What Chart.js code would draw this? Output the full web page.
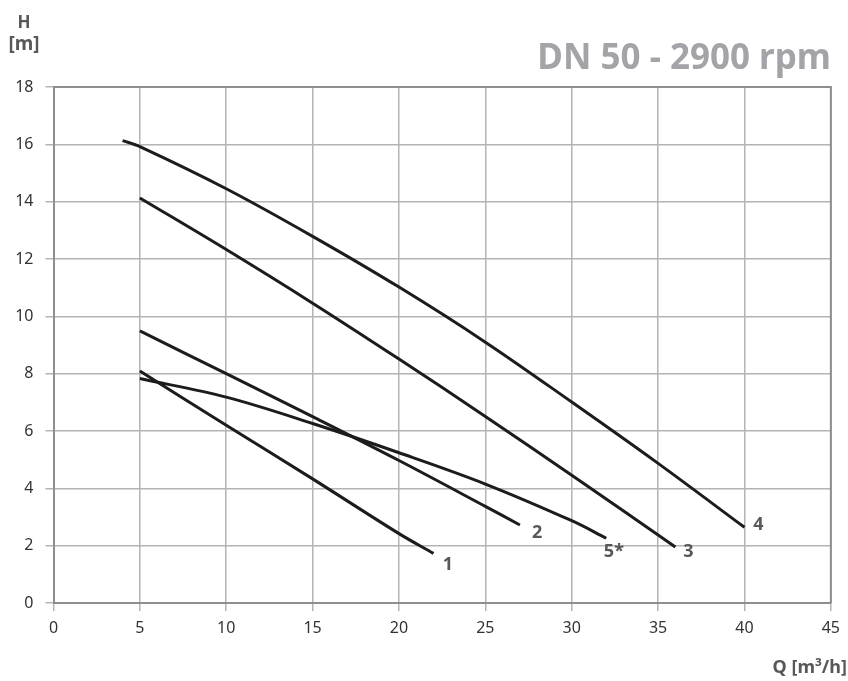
<!DOCTYPE html>
<html>
<head>
<meta charset="utf-8">
<script src="https://cdn.jsdelivr.net/npm/chart.js@4/dist/chart.umd.min.js"></script>
<style>
  html, body { margin: 0; padding: 0; background: #fff; }
  #wrap { width: 848px; height: 681px; }
</style>
</head>
<body>
<div id="wrap"><canvas id="pump-chart" width="848" height="681"></canvas></div>
<script>
// Pump curves (Q in m3/h, H in m)
const curveNames = ['1', '2', '5*', '3', '4'];

const q1 = [5, 10, 15, 20, 22];
const h1 = [8.09, 6.2, 4.33, 2.42, 1.73];

const q2 = [5, 10, 15, 20, 25, 27];
const h2 = [9.49, 8.0, 6.5, 4.97, 3.37, 2.72];

const q5 = [5, 10, 15, 20, 25, 30, 32];
const h5 = [7.83, 7.18, 6.26, 5.24, 4.15, 2.87, 2.26];

const q3 = [5, 10, 15, 20, 25, 30, 36];
const h3 = [14.13, 12.33, 10.46, 8.51, 6.51, 4.46, 1.95];

const q4 = [4, 5, 10, 15, 20, 25, 30, 35, 40];
const h4 = [16.13, 15.92, 14.45, 12.79, 11.02, 9.1, 7.01, 4.87, 2.64];

// where the curve numbers sit (data coords)
const labelQ = [22.83, 28.0, 32.44, 36.76, 40.8];
const labelH = [1.32, 2.44, 1.78, 1.78, 2.72];

const xTicks = [0, 5, 10, 15, 20, 25, 30, 35, 40, 45];
const yTicks = [0, 2, 4, 6, 8, 10, 12, 14, 16, 18];

const FONT = '"Noto Sans", "Open Sans", sans-serif';

function toPoints(qs, hs) {
  return qs.map((q, i) => ({ x: q, y: hs[i] }));
}

const allQ = [q1, q2, q5, q3, q4];
const allH = [h1, h2, h5, h3, h4];

const datasets = curveNames.map((name, i) => ({
  label: name,
  data: toPoints(allQ[i], allH[i]),
  borderColor: '#1c1c1c',
  borderWidth: 3,
  pointRadius: 0,
  fill: false,
  tension: 0.35
}));

// Extra texts: title, axis names and curve numbers
const textPlugin = {
  id: 'texts',
  afterDraw(chart) {
    const ctx = chart.ctx;
    const xs = chart.scales.x;
    const ys = chart.scales.y;
    ctx.save();

    // curve numbers
    ctx.fillStyle = '#58585a';
    ctx.font = 'bold 18px ' + FONT;
    ctx.textAlign = 'center';
    ctx.textBaseline = 'middle';
    for (let i = 0; i < curveNames.length; i++) {
      ctx.fillText(curveNames[i], xs.getPixelForValue(labelQ[i]), ys.getPixelForValue(labelH[i]));
    }

    // title
    ctx.fillStyle = '#a3a3a8';
    ctx.font = 'bold 35px ' + FONT;
    ctx.textAlign = 'right';
    ctx.textBaseline = 'alphabetic';
    ctx.fillText('DN 50 - 2900 rpm', 831, 69);

    // axis names
    ctx.fillStyle = '#58585a';
    ctx.font = 'bold 17px ' + FONT;
    ctx.textAlign = 'center';
    ctx.fillText('H', 24, 28);
    ctx.font = 'bold 19px ' + FONT;
    ctx.fillText('[m]', 24, 50);
    ctx.font = 'bold 18px ' + FONT;
    ctx.textAlign = 'right';
    ctx.fillText('Q [m³/h]', 847, 673);

    ctx.restore();
  }
};

// top and right frame lines to close the box
const framePlugin = {
  id: 'frame',
  beforeDatasetsDraw(chart) {
    const { ctx, chartArea: a } = chart;
    ctx.save();
    ctx.strokeStyle = '#8e8e90';
    ctx.lineWidth = 2;
    ctx.beginPath();
    ctx.moveTo(a.left, a.top);
    ctx.lineTo(a.right, a.top);
    ctx.lineTo(a.right, a.bottom);
    ctx.stroke();
    ctx.restore();
  }
};

const config = {
  type: 'line',
  data: { datasets: datasets },
  options: {
    responsive: false,
    animation: false,
    layout: { padding: { left: 0, top: 87, right: 14, bottom: 0 } },
    plugins: {
      legend: { display: false },
      tooltip: { enabled: false }
    },
    scales: {
      x: {
        type: 'linear',
        min: 0,
        max: 45,
        afterBuildTicks: axis => { axis.ticks = xTicks.map(v => ({ value: v })); },
        afterFit: axis => { axis.height = 78; },
        grid: { color: '#b4b4b6', lineWidth: 1.5, tickLength: 8 },
        border: { color: '#8e8e90', width: 2 },
        ticks: { color: '#333', font: { family: FONT, size: 16 }, padding: 8, maxRotation: 0 }
      },
      y: {
        type: 'linear',
        min: 0,
        max: 18,
        afterBuildTicks: axis => { axis.ticks = yTicks.map(v => ({ value: v })); },
        afterFit: axis => { axis.width = 53.5; },
        grid: { color: '#b4b4b6', lineWidth: 1.5, tickLength: 8 },
        border: { color: '#8e8e90', width: 2 },
        ticks: { color: '#333', font: { family: FONT, size: 16 }, padding: 12 }
      }
    }
  },
  plugins: [textPlugin, framePlugin]
};

new Chart(document.querySelector('#pump-chart'), config);
</script>
</body>
</html>
